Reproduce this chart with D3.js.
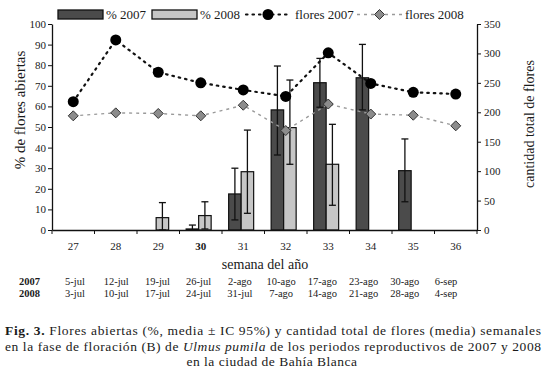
<!DOCTYPE html>
<html><head><meta charset="utf-8">
<script src="https://cdn.jsdelivr.net/npm/d3@7"></script>
<style>
html,body{margin:0;padding:0;background:#fff;}
</style></head>
<body>
<svg id="chart" width="546" height="378"></svg>
<script>
const weeks = ["27","28","29","30","31","32","33","34","35","36"];
const pct2007 = [null,null,null,0.5,17.5,58.3,71.5,73.9,28.8,null];
const pct2007Low = [null,null,null,0,4.9,36.4,59.6,58.3,13.7,null];
const pct2007High = [null,null,null,2.4,30,79.6,83.3,90.1,44.2,null];
const pct2008 = [null,null,6,7,28.3,49.7,31.9,null,null,null];
const pct2008Low = [null,null,0,0.5,8.1,31.9,12,null,null,null];
const pct2008High = [null,null,13.3,13.7,48.5,72.8,51.3,null,null,null];
const flores2007 = [218,323,268,250,238,227,301,249,234,231];
const flores2008 = [194,199,198,194,212,169,214,197,195,177];
const leftTicks = [0,10,20,30,40,50,60,70,80,90,100];
const rightTicks = [0,50,100,150,200,250,300,350];
const dates2007 = ["5-jul","12-jul","19-jul","26-jul","2-ago","10-ago","17-ago","23-ago","30-ago","6-sep"];
const dates2008 = ["3-jul","10-jul","17-jul","24-jul","31-jul","7-ago","14-ago","21-ago","28-ago","4-sep"];
const captionLines = [
  ["Fig. 3.", " Flores abiertas (%, media \u00b1 IC 95%) y cantidad total de flores (media) semanales"],
  ["", "en la fase de floraci\u00f3n (B) de ", "Ulmus pumila", " de los periodos reproductivos de 2007 y 2008"],
  ["", "en la ciudad de Bah\u00eda Blanca"]
];

const FONT = "'Liberation Serif', 'Times New Roman', Times, serif";
const svg = d3.select("#chart").style("font-family", FONT);
const L = 52, R = 477, T = 24, B = 230;
const x = d3.scaleBand().domain(weeks).range([L, R]).padding(0);
const xs = d3.scaleBand().domain(["2007","2008"]).range([0, x.bandwidth()]).paddingInner(0).paddingOuter(0.7).align(0.38);
const yL = d3.scaleLinear().domain([0,100]).range([B, T]);
const yR = d3.scaleLinear().domain([0,350]).range([B, T]);
const cx = w => x(w) + x.bandwidth()/2;

const dark = "#4b4b4b", light = "#c6c6c6";

function txt(g){ return g.append("text").style("font-family", FONT).attr("fill","#1a1a1a"); }

// bars
function drawBars(vals, lo, hi, key, fill) {
  const data = weeks.map((w,i)=>({w, v:vals[i], lo:lo[i], hi:hi[i]})).filter(d=>d.v!=null);
  const g = svg.append("g");
  g.selectAll("rect").data(data).join("rect")
    .attr("x", d=>x(d.w)+xs(key)).attr("width", xs.bandwidth())
    .attr("y", d=>yL(d.v)).attr("height", d=>B-yL(d.v))
    .attr("fill", fill).attr("stroke", "#111").attr("stroke-width", 1.2);
  const e = svg.append("g").attr("stroke","#111").attr("stroke-width",1.3);
  data.forEach(d=>{
    const xc = x(d.w)+xs(key)+xs.bandwidth()/2;
    e.append("line").attr("x1",xc).attr("x2",xc).attr("y1",yL(d.lo)).attr("y2",yL(d.hi));
    e.append("line").attr("x1",xc-3.5).attr("x2",xc+3.5).attr("y1",yL(d.hi)).attr("y2",yL(d.hi));
    e.append("line").attr("x1",xc-3.5).attr("x2",xc+3.5).attr("y1",yL(d.lo)).attr("y2",yL(d.lo));
  });
}
drawBars(pct2007, pct2007Low, pct2007High, "2007", dark);
drawBars(pct2008, pct2008Low, pct2008High, "2008", light);

// axes
const axL = svg.append("g").attr("transform",`translate(${L},0)`)
  .call(d3.axisLeft(yL).tickValues(leftTicks).tickSize(4).tickSizeOuter(0));
const axR = svg.append("g").attr("transform",`translate(${R},0)`)
  .call(d3.axisRight(yR).tickValues(rightTicks).tickSize(4).tickSizeOuter(0));
const axB = svg.append("g").attr("transform",`translate(0,${B})`)
  .call(d3.axisBottom(x).tickSize(0).tickSizeOuter(0).tickPadding(12));
svg.append("g").selectAll("line").data(weeks.concat(["end"])).join("line")
  .attr("x1",(d,i)=>L+i*x.step()).attr("x2",(d,i)=>L+i*x.step())
  .attr("y1",B).attr("y2",B+4).attr("stroke","#111").attr("stroke-width",1);
[axL,axR,axB].forEach(a=>{
  a.attr("font-family", null);
  a.selectAll("path").attr("stroke","#111").attr("stroke-width",1.3);
  a.selectAll(".tick line").attr("stroke","#111").attr("stroke-width",1);
  a.selectAll("text").style("font-family", FONT).attr("font-size",11).attr("fill","#1a1a1a");
});
axL.selectAll("text").attr("x",-6);
axR.selectAll("text").attr("x",7);
axB.selectAll("text").attr("font-weight",d=>d==="30"?"bold":"normal");

// lines
const lineGen = d3.line().x((d,i)=>cx(weeks[i])).y(d=>yR(d));
svg.append("path").datum(flores2008).attr("d",lineGen).attr("fill","none")
  .attr("stroke","#9a9a9a").attr("stroke-width",1.4).attr("stroke-dasharray","3,4");
svg.append("path").datum(flores2007).attr("d",lineGen).attr("fill","none")
  .attr("stroke","#111").attr("stroke-width",2.2).attr("stroke-dasharray","1.5,5").attr("stroke-linecap","round");
const diamond = (px,py,s)=>`M${px},${py-s}L${px+s},${py}L${px},${py+s}L${px-s},${py}Z`;
svg.append("g").selectAll("path").data(flores2008).join("path")
  .attr("d",(d,i)=>diamond(cx(weeks[i]),yR(d),5)).attr("fill","#8c8c8c").attr("stroke","#333").attr("stroke-width",1);
svg.append("g").selectAll("circle").data(flores2007).join("circle")
  .attr("cx",(d,i)=>cx(weeks[i])).attr("cy",d=>yR(d)).attr("r",5.5).attr("fill","#000");

// axis titles
txt(svg).attr("transform","translate(25,110) rotate(-90)").attr("text-anchor","middle")
  .attr("font-size",15).text("% de flores abiertas");
txt(svg).attr("transform","translate(534,124) rotate(-90)").attr("text-anchor","middle")
  .attr("font-size",14).text("cantidad total de flores");
txt(svg).attr("x",265).attr("y",269).attr("text-anchor","middle")
  .attr("font-size",14).text("semana del a\u00f1o");

// date table
const xd = d3.scalePoint().domain(weeks).range([75, 446]);
txt(svg).attr("x",19).attr("y",285).attr("font-size",10.5).attr("font-weight","bold").text("2007");
txt(svg).attr("x",19).attr("y",297).attr("font-size",10.5).attr("font-weight","bold").text("2008");
const dg = svg.append("g");
dates2007.forEach((d,i)=>txt(dg).attr("x",xd(weeks[i])).attr("y",285).attr("text-anchor","middle").attr("font-size",10.5).text(d));
dates2008.forEach((d,i)=>txt(dg).attr("x",xd(weeks[i])).attr("y",297).attr("text-anchor","middle").attr("font-size",10.5).text(d));

// legend
svg.append("rect").attr("x",58).attr("y",10).attr("width",45).attr("height",9).attr("fill",dark).attr("stroke","#111").attr("stroke-width",1.3);
txt(svg).attr("x",106).attr("y",19).attr("font-size",13).text("% 2007");
svg.append("rect").attr("x",152).attr("y",10).attr("width",45).attr("height",9).attr("fill",light).attr("stroke","#111").attr("stroke-width",1.3);
txt(svg).attr("x",200).attr("y",19).attr("font-size",13).text("% 2008");
svg.append("line").attr("x1",246).attr("x2",291).attr("y1",14.5).attr("y2",14.5)
  .attr("stroke","#111").attr("stroke-width",2.2).attr("stroke-dasharray","1.5,5").attr("stroke-linecap","round");
svg.append("circle").attr("cx",268).attr("cy",14.5).attr("r",5.5).attr("fill","#000");
txt(svg).attr("x",295).attr("y",19).attr("font-size",13).text("flores 2007");
svg.append("line").attr("x1",357).attr("x2",402).attr("y1",14.5).attr("y2",14.5)
  .attr("stroke","#9a9a9a").attr("stroke-width",1.4).attr("stroke-dasharray","3,4");
svg.append("path").attr("d",diamond(379.5,14.5,5)).attr("fill","#8c8c8c").attr("stroke","#333");
txt(svg).attr("x",405).attr("y",19).attr("font-size",13).text("flores 2008");

// caption
const cap = svg.append("g");
const t1 = txt(cap).attr("font-size",13.5).attr("x",5).attr("y",335).attr("textLength",536).attr("lengthAdjust","spacing");
t1.append("tspan").attr("font-weight","bold").text(captionLines[0][0]);
t1.append("tspan").text(captionLines[0][1]);
const t2 = txt(cap).attr("font-size",13.5).attr("x",5).attr("y",351).attr("textLength",536).attr("lengthAdjust","spacing");
t2.append("tspan").text(captionLines[1][1]);
t2.append("tspan").attr("font-style","italic").text(captionLines[1][2]);
t2.append("tspan").text(captionLines[1][3]);
txt(cap).attr("font-size",13.5).attr("x",272).attr("y",366).attr("text-anchor","middle")
  .style("letter-spacing","0.5px").text(captionLines[2][1]);
</script>
</body></html>
